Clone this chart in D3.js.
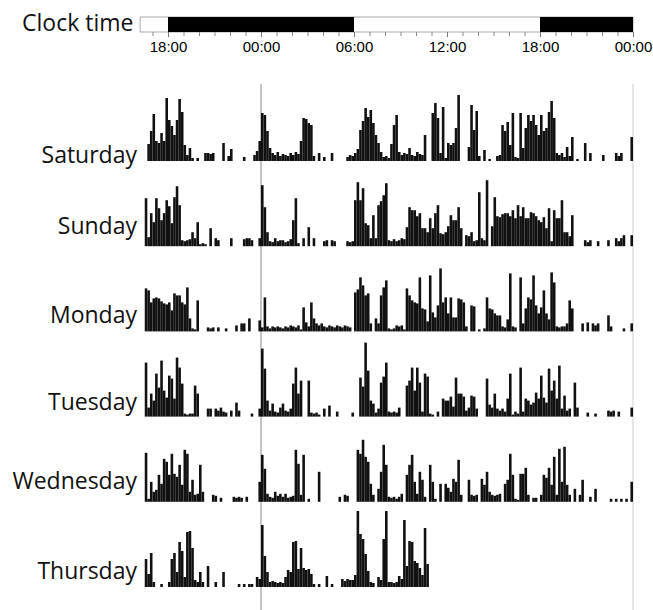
<!DOCTYPE html>
<html><head><meta charset="utf-8">
<script src="https://cdn.jsdelivr.net/npm/d3@7"></script>
<style>body{margin:0;background:#fff} svg{display:block}</style>
</head><body><svg id="c" width="653" height="610"></svg>
<script>
// ---- data ----
const days = ["Saturday", "Sunday", "Monday", "Tuesday", "Wednesday", "Thursday"];
const tickHours = [18, 24, 30, 36, 42, 48];
const tickLabels = ["18:00", "00:00", "06:00", "12:00", "18:00", "00:00"];
const darkStart = [18, 42];
const darkEnd = [30, 48];
const binStartHour = 16.5;   // first bin starts at 16:30
const binHours = 1 / 6;      // 10-minute bins

const saturday = [0,17,30,47,20,18,28,20,63,41, 35,26,41,62,49,16,6,13,3,0, 3,0,0,8,8,7,8,0,0,0, 18,0,5,12,0,0,0,0,4,0,
 0,0,6,10,20,48,46,30,13,8, 6,9,5,7,6,5,8,6,9,7, 20,43,42,38,36,5,0,8,0,4, 0,0,8,0,0,0,0,0,4,6,
 5,8,12,31,40,53,44,51,38,26, 18,9,4,5,3,17,36,46,9,6, 8,7,13,6,5,9,7,6,26,0, 0,48,58,43,8,54,3,18,16,18,
 33,66,0,0,0,14,56,31,50,5, 0,11,0,2,0,0,5,6,36,30, 39,16,48,4,3,48,13,33,46,40, 46,36,26,46,30,33,49,60,43,8,
 6,8,4,14,5,24,0,2,0,0, 18,0,8,0,0,0,0,6,0,0, 0,0,8,5,8,0,0,0,24];
const sunday = [48,9,33,24,48,38,26,33,46,40, 23,49,60,41,6,5,6,7,14,8, 24,2,3,2,0,18,0,8,6,0, 0,0,0,8,0,0,0,0,7,8,
 8,6,0,0,8,61,39,14,5,4, 8,5,6,6,4,5,7,26,48,3, 0,8,0,19,0,8,0,0,0,5, 6,0,6,5,0,0,0,0,5,4,
 5,46,64,46,58,23,21,8,31,8, 41,45,51,63,6,5,7,5,6,8, 7,19,39,36,36,30,33,18,18,14, 28,18,33,41,13,12,14,20,31,26,
 26,39,18,0,11,10,14,5,6,54, 8,6,66,0,20,49,30,29,32,33, 33,30,36,28,41,30,39,28,28,34, 33,30,26,24,29,18,38,5,36,28,
 28,46,14,14,10,31,0,0,0,0, 6,4,6,0,0,5,0,0,0,6, 0,0,8,5,8,11,0,0,11];
const monday = [43,41,29,33,34,33,30,28,27,29, 21,38,36,36,29,27,44,13,3,2, 31,0,0,0,4,3,4,0,4,0, 0,3,0,0,0,6,0,8,8,0,
 13,0,0,0,11,4,34,5,3,5, 4,5,4,3,5,4,6,5,4,6, 2,24,9,5,29,13,8,6,8,5, 4,6,5,4,6,5,4,6,5,4,
 0,39,42,54,46,36,38,8,0,13, 8,36,44,51,3,2,3,6,5,6, 2,43,36,31,29,28,54,23,22,10, 56,19,14,26,63,29,34,18,34,14,
 14,33,32,29,5,0,26,25,0,2, 0,3,34,23,22,18,16,16,5,4, 12,58,5,4,0,54,8,23,34,32, 56,26,18,24,41,18,12,59,49,5,
 4,5,5,8,31,23,0,0,0,8, 0,9,0,8,6,8,0,0,0,16, 5,0,0,0,0,3,0,0,8];
const tuesday = [54,9,23,16,43,29,56,26,19,41, 38,18,59,49,33,3,2,3,3,31, 23,0,0,0,8,8,0,8,6,9, 5,4,0,6,0,14,6,0,0,0,
 0,3,0,0,8,68,48,16,6,13, 5,4,9,13,6,5,8,33,49,23, 36,0,0,36,4,3,4,2,0,8, 0,11,0,0,5,0,0,0,0,0,
 4,0,0,39,30,74,46,16,13,4, 8,34,40,54,5,4,5,4,9,0, 0,31,36,49,26,49,34,5,43,40, 3,2,0,5,0,18,16,16,20,10,
 39,23,23,20,6,9,21,20,8,0, 0,0,38,12,9,23,8,6,8,5, 18,43,2,5,3,49,5,18,16,12, 14,24,18,41,19,14,48,26,36,18,
 51,8,21,6,8,0,34,9,0,0, 0,4,0,0,3,0,0,0,0,6, 5,6,0,5,0,0,0,0,9];
const wednesday = [49,3,20,10,12,27,18,43,40,27, 48,28,25,37,17,52,48,10,22,7, 8,37,10,0,0,0,7,6,0,4, 0,0,0,0,5,4,5,4,0,5,
 0,0,0,0,20,47,33,8,5,4, 10,6,8,5,8,4,5,6,52,38, 7,47,0,3,0,0,0,30,0,0, 0,0,0,0,0,5,0,7,6,0,
 0,0,52,48,62,45,40,18,7,0, 13,30,57,37,5,4,5,3,5,8, 0,27,37,47,20,8,30,22,5,0, 37,20,3,0,18,0,18,14,10,23,
 20,42,7,0,0,22,7,6,7,0, 23,17,30,10,7,6,7,8,0,18, 22,48,27,3,2,28,28,34,7,0, 4,4,0,7,27,24,34,17,45,7,
 53,20,55,17,7,0,13,0,7,22, 0,0,5,0,13,0,0,0,0,0, 3,0,3,0,3,0,3,0,20];
const thursday = [28,13,34,5,0,0,3,0,0,5, 28,34,15,45,36,10,55,56,39,7, 5,15,5,0,21,0,0,5,0,0, 15,0,0,0,0,0,3,0,3,0,
 3,3,0,10,8,62,31,15,5,6, 5,4,5,4,10,17,15,45,46,18, 39,19,17,18,13,3,0,3,0,0, 11,0,3,0,0,0,8,6,8,7,
 7,12,76,53,48,33,16,5,4,0, 10,7,48,76,5,5,4,5,11,8, 67,21,46,45,26,24,19,12,59,23];
const activity = [saturday, sunday, monday, tuesday, wednesday, thursday];

// ---- drawing ----
const svg = d3.select("#c");
const x = d3.scaleLinear().domain([16.2, 48]).range([140.1, 633]);
const rowBase = d3.scaleLinear().domain([0, 5]).range([161, 587]);
const hgt = d3.scaleLinear().domain([0, 80]).range([0, 80]);

const barTop = 17, barBot = 32;
const labelFont = "'Open Sans', Lato, sans-serif";

// header label
svg.append("text").attr("x", 22).attr("y", 25).attr("dominant-baseline", "middle")
  .style("font-family", labelFont).style("font-size", "23px").style("fill", "#111")
  .text("Clock time");

// clock bar
svg.append("rect").attr("x", x(16.2)).attr("y", barTop).attr("width", x(48) - x(16.2)).attr("height", barBot - barTop)
  .attr("fill", "#fff").attr("stroke", "#aaa").attr("stroke-width", 1);
svg.selectAll("rect.dark").data(darkStart).join("rect").attr("class", "dark")
  .attr("x", d => x(d)).attr("y", barTop).attr("width", (d, i) => x(darkEnd[i]) - x(d)).attr("height", barBot - barTop)
  .attr("fill", "#000");

// hourly minor ticks under the bar
const minor = d3.axisBottom(x).tickValues(d3.range(17, 49)).tickSize(4).tickFormat("");
const gMinor = svg.append("g").attr("transform", `translate(0,${barBot})`).call(minor);
gMinor.select(".domain").remove();
gMinor.selectAll("line").attr("stroke", "#888");

// major labels
const major = d3.axisBottom(x).tickValues(tickHours).tickSize(5).tickPadding(4)
  .tickFormat((d, i) => tickLabels[i]);
const gMajor = svg.append("g").attr("transform", `translate(0,${barBot})`).call(major);
gMajor.select(".domain").remove();
gMajor.selectAll("line").attr("stroke", "#777");
gMajor.selectAll("text").style("font-family", "'Liberation Sans Narrow', 'Liberation Sans', Arial, sans-serif")
  .style("font-size", "15px").style("fill", "#000");

// vertical reference lines
svg.append("line").attr("x1", x(24)).attr("x2", x(24)).attr("y1", 84).attr("y2", 610)
  .attr("stroke", "#888").attr("stroke-width", 1);
svg.append("line").attr("x1", x(48)).attr("x2", x(48)).attr("y1", 84).attr("y2", 610)
  .attr("stroke", "#ccc").attr("stroke-width", 1);

// activity rows
activity.forEach((vals, r) => {
  const base = rowBase(r);
  svg.append("g").selectAll("rect")
    .data(vals.map((v, i) => ({ v, t: binStartHour + i * binHours })).filter(d => d.v > 0))
    .join("rect")
    .attr("x", d => x(d.t))
    .attr("width", d => x(d.t + binHours) - x(d.t))
    .attr("y", d => base - hgt(d.v))
    .attr("height", d => hgt(d.v))
    .attr("fill", "#111");
});

// day labels
const labelLift = [4, 18, 15, 13, 19, 14];
svg.selectAll("text.day").data(days).join("text").attr("class", "day")
  .attr("x", 137).attr("y", (d, i) => rowBase(i) - labelLift[i])
  .attr("text-anchor", "end").attr("dominant-baseline", "middle")
  .style("font-family", labelFont).style("font-size", "23px").style("fill", "#111")
  .text(d => d);
</script></body></html>
